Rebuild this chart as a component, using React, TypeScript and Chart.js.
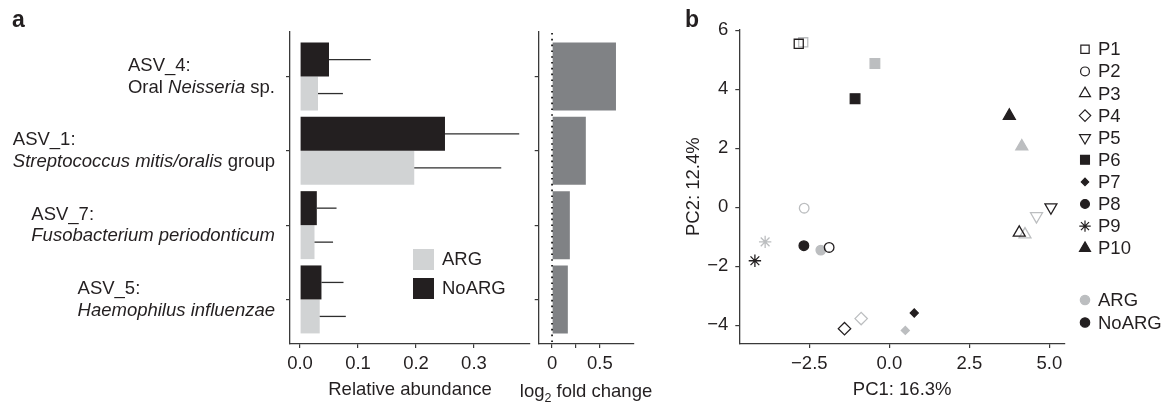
import React, { useEffect, useRef } from 'react';
import { Chart, registerables } from 'chart.js';
import { drawPoint } from 'chart.js/helpers';

Chart.register(...registerables);

const FONT = '"Liberation Sans", Arial, Helvetica, sans-serif';
const FS = 18.5;
const INK = '#231f20';
const AXIS = '#3a3a3a';
const ARG_BAR = '#d1d3d4';
const FOLD_BAR = '#808285';
const ARG_PT = '#bcbec0';

// ---------- Panel a data ----------
const asvIds = ['ASV_4:', 'ASV_1:', 'ASV_7:', 'ASV_5:'];
const taxonLines: [string, boolean][][] = [
  [['Oral ', false], ['Neisseria', true], [' sp.', false]],
  [['Streptococcus mitis/oralis', true], [' group', false]],
  [['Fusobacterium periodonticum', true]],
  [['Haemophilus influenzae', true]],
];
const noargMean = [0.05, 0.25, 0.029, 0.037];
const noargUpper = [0.122, 0.378, 0.063, 0.075];
const argMean = [0.031, 0.197, 0.025, 0.034];
const argUpper = [0.074, 0.347, 0.057, 0.079];
const log2FoldChange = [0.668, 0.353, 0.186, 0.165];
const abundanceTicks = [0, 0.1, 0.2, 0.3];
const foldTicks = [0, 0.25, 0.5];
const foldTickLabels = ['0', '', '0.5'];
const groupLabels = ['ARG', 'NoARG'];

// ---------- Panel b data ----------
const patients = ['P1', 'P2', 'P3', 'P4', 'P5', 'P6', 'P7', 'P8', 'P9', 'P10'];
const argPC1 = [-2.69, -2.66, 4.24, -0.88, 4.6, -0.45, 0.5, -2.14, -3.88, 4.14];
const argPC2 = [5.59, -0.03, -0.92, -3.77, -0.3, 4.87, -4.17, -1.45, -1.17, 2.06];
const noargPC1 = [-2.83, -1.88, 4.06, -1.4, 5.05, -1.07, 0.78, -2.67, -4.2, 3.75];
const noargPC2 = [5.54, -1.36, -0.86, -4.11, 0.0, 3.68, -3.58, -1.3, -1.81, 3.1];
const pc1Ticks = [-2.5, 0, 2.5, 5];
const pc2Ticks = [-4, -2, 0, 2, 4, 6];

// marker styles per patient
const shapes = ['rect', 'circle', 'triangle', 'rectRot', 'triangle', 'rect', 'rectRot', 'circle', 'star', 'triangle'];
const rotations = [0, 0, 0, 0, 180, 0, 0, 0, 0, 0];
const filled = [false, false, false, false, false, true, true, true, false, true];
const radii = [6.4, 4.8, 6.9, 6.2, 6.9, 6.8, 4.0, 4.8, 6.2, 6.9];

Chart.defaults.font.family = FONT;
Chart.defaults.font.size = FS;
Chart.defaults.color = INK;

const gridOpts = { drawOnChartArea: false, drawTicks: true, tickLength: 4, color: AXIS, lineWidth: 1.2, offset: false };
const borderOpts = { display: true, color: AXIS, width: 1.3 };

function zeroPad(s: any) {
  s.paddingLeft = 0;
  s.paddingRight = 0;
  s.paddingTop = 0;
  s.paddingBottom = 0;
}

const categoryLabelPlugin = {
  id: 'categoryLabels',
  afterDraw(chart: any) {
    const ctx = chart.ctx;
    const y = chart.scales.y;
    const rightEdge = chart.chartArea.left - 15;
    ctx.save();
    ctx.fillStyle = INK;
    ctx.textBaseline = 'middle';
    ctx.textAlign = 'left';
    asvIds.forEach((id, i) => {
      const yc = y.getPixelForValue(i + 1);
      ctx.font = `${FS}px ${FONT}`;
      const w1 = ctx.measureText(id).width;
      let w2 = 0;
      taxonLines[i].forEach(([t, it]) => {
        ctx.font = `${it ? 'italic ' : ''}${FS}px ${FONT}`;
        w2 += ctx.measureText(t).width;
      });
      const x0 = rightEdge - Math.max(w1, w2);
      ctx.font = `${FS}px ${FONT}`;
      ctx.fillText(id, x0, yc - 10.5);
      let x = x0;
      taxonLines[i].forEach(([t, it]) => {
        ctx.font = `${it ? 'italic ' : ''}${FS}px ${FONT}`;
        ctx.fillText(t, x, yc + 11);
        x += ctx.measureText(t).width;
      });
    });
    // panel letter
    ctx.font = `bold 23px ${FONT}`;
    ctx.textBaseline = 'alphabetic';
    ctx.fillText('a', 12, 27);
    // legend
    const lx = chart.chartArea.left + 123;
    const colors = [ARG_BAR, INK];
    groupLabels.forEach((g, k) => {
      const ty = 249 + k * 29;
      ctx.fillStyle = colors[k];
      ctx.fillRect(lx, ty, 21, 21);
      ctx.fillStyle = INK;
      ctx.font = `${FS}px ${FONT}`;
      ctx.textBaseline = 'middle';
      ctx.fillText(g, lx + 29, ty + 11);
    });
    ctx.restore();
  },
};

const errorBarPlugin = {
  id: 'errorBars',
  afterDatasetsDraw(chart: any) {
    const ctx = chart.ctx;
    const xs = chart.scales.x;
    const sets = [
      [noargMean, noargUpper],
      [argMean, argUpper],
    ];
    ctx.save();
    ctx.strokeStyle = '#2e2e2e';
    ctx.lineWidth = 1.3;
    sets.forEach(([m, u], d) => {
      const meta = chart.getDatasetMeta(d);
      meta.data.forEach((bar: any, i: number) => {
        ctx.beginPath();
        ctx.moveTo(xs.getPixelForValue(m[i]), bar.y);
        ctx.lineTo(xs.getPixelForValue(u[i]), bar.y);
        ctx.stroke();
      });
    });
    ctx.restore();
  },
};

const foldPlugin = {
  id: 'foldExtras',
  afterDatasetsDraw(chart: any) {
    const ctx = chart.ctx;
    const { top, bottom } = chart.chartArea;
    const x0 = chart.scales.x.getPixelForValue(0);
    ctx.save();
    ctx.strokeStyle = '#000';
    ctx.lineWidth = 1.6;
    ctx.setLineDash([1.6, 4.2]);
    ctx.beginPath();
    ctx.moveTo(x0, top + 1);
    ctx.lineTo(x0, bottom);
    ctx.stroke();
    ctx.restore();
  },
  afterDraw(chart: any) {
    const ctx = chart.ctx;
    const { left, right } = chart.chartArea;
    const cx = (left + right) / 2;
    const by = 397;
    ctx.save();
    ctx.fillStyle = INK;
    ctx.textBaseline = 'alphabetic';
    ctx.textAlign = 'left';
    ctx.font = `${FS}px ${FONT}`;
    const wa = ctx.measureText('log').width;
    const wc = ctx.measureText(' fold change').width;
    ctx.font = `12.5px ${FONT}`;
    const wb = ctx.measureText('2').width;
    let x = cx - (wa + wb + wc) / 2;
    ctx.font = `${FS}px ${FONT}`;
    ctx.fillText('log', x, by);
    x += wa;
    ctx.font = `12.5px ${FONT}`;
    ctx.fillText('2', x, by + 5);
    x += wb;
    ctx.font = `${FS}px ${FONT}`;
    ctx.fillText(' fold change', x, by);
    ctx.restore();
  },
};

const scatterLegendPlugin = {
  id: 'scatterLegend',
  afterDraw(chart: any) {
    const ctx = chart.ctx;
    const mx = chart.chartArea.right + 20;
    const tx = chart.chartArea.right + 33;
    ctx.save();
    ctx.font = `${FS}px ${FONT}`;
    ctx.textBaseline = 'middle';
    ctx.textAlign = 'left';
    patients.forEach((p, i) => {
      const y = 49.3 + i * 22.1;
      ctx.fillStyle = filled[i] ? INK : 'rgba(0,0,0,0)';
      ctx.strokeStyle = INK;
      ctx.lineWidth = 1.2;
      drawPoint(ctx, { pointStyle: shapes[i], rotation: rotations[i], radius: radii[i] * 0.92, borderWidth: 1.2 }, mx, y);
      ctx.fillStyle = INK;
      ctx.fillText(p, tx, y + 1);
    });
    const gcol = [ARG_PT, INK];
    groupLabels.forEach((g, k) => {
      const y = 300 + k * 22.5;
      ctx.fillStyle = gcol[k];
      ctx.strokeStyle = gcol[k];
      drawPoint(ctx, { pointStyle: 'circle', rotation: 0, radius: 4.7, borderWidth: 1 }, mx, y);
      ctx.fillStyle = INK;
      ctx.fillText(g, tx, y + 1);
    });
    ctx.font = `bold 23px ${FONT}`;
    ctx.textBaseline = 'alphabetic';
    ctx.fillText('b', 5, 27);
    ctx.restore();
  },
};

function useChart(ref: React.RefObject<HTMLCanvasElement>, make: () => any) {
  useEffect(() => {
    if (!ref.current) return;
    const chart = new Chart(ref.current, make());
    return () => chart.destroy();
  }, []);
}

const minus = (s: string) => s.replace('-', '\u2212');

const indexScale = (width: number) => ({
  type: 'linear',
  reverse: true,
  offset: false,
  min: 0.4,
  max: 4.6,
  afterBuildTicks: (s: any) => {
    s.ticks = asvIds.map((_, i) => ({ value: i + 1 }));
  },
  ticks: { display: false },
  grid: gridOpts,
  border: borderOpts,
  afterFit: (s: any) => {
    s.width = width;
    zeroPad(s);
  },
});

export default function App() {
  const aRef = useRef<HTMLCanvasElement>(null);
  const fRef = useRef<HTMLCanvasElement>(null);
  const bRef = useRef<HTMLCanvasElement>(null);

  useChart(aRef, () => ({
    type: 'bar',
    data: {
      datasets: [
        {
          label: 'NoARG',
          data: noargMean.map((v, i) => ({ x: v, y: i + 1 })),
          backgroundColor: INK,
          borderWidth: 0,
          categoryPercentage: 0.915,
          barPercentage: 1,
        },
        {
          label: 'ARG',
          data: argMean.map((v, i) => ({ x: v, y: i + 1 })),
          backgroundColor: ARG_BAR,
          borderWidth: 0,
          categoryPercentage: 0.915,
          barPercentage: 1,
        },
      ],
    },
    options: {
      indexAxis: 'y',
      animation: false,
      responsive: false,
      maintainAspectRatio: false,
      layout: { padding: { left: 0, top: 32, right: 10, bottom: 0 } },
      plugins: { legend: { display: false }, tooltip: { enabled: false } },
      scales: {
        x: {
          type: 'linear',
          min: -0.01724,
          max: 0.3966,
          afterBuildTicks: (s: any) => {
            s.ticks = abundanceTicks.map((v) => ({ value: v }));
          },
          ticks: { callback: (v: any) => Number(v).toFixed(1), padding: 5, maxRotation: 0, color: INK },
          grid: gridOpts,
          border: borderOpts,
          title: { display: true, text: 'Relative abundance', color: INK, font: { size: FS }, padding: { top: 0, bottom: 3 } },
          afterFit: (s: any) => {
            s.height = 60;
            zeroPad(s);
          },
        },
        y: indexScale(290),
      },
    },
    plugins: [errorBarPlugin, categoryLabelPlugin],
  }));

  useChart(fRef, () => ({
    type: 'bar',
    data: {
      datasets: [
        {
          label: 'log2 fold change',
          data: log2FoldChange.map((v, i) => ({ x: v, y: i + 1 })),
          backgroundColor: FOLD_BAR,
          borderWidth: 0,
          categoryPercentage: 0.915,
          barPercentage: 1,
        },
      ],
    },
    options: {
      indexAxis: 'y',
      animation: false,
      responsive: false,
      maintainAspectRatio: false,
      layout: { padding: { left: 0, top: 32, right: 36.7, bottom: 0 } },
      plugins: { legend: { display: false }, tooltip: { enabled: false } },
      scales: {
        x: {
          type: 'linear',
          min: -0.1394,
          max: 0.849,
          afterBuildTicks: (s: any) => {
            s.ticks = foldTicks.map((v) => ({ value: v }));
          },
          ticks: {
            callback: (v: any, i: number) => foldTickLabels[i],
            padding: 5,
            maxRotation: 0,
            autoSkip: false,
            color: INK,
          },
          grid: gridOpts,
          border: borderOpts,
          afterFit: (s: any) => {
            s.height = 60;
            zeroPad(s);
          },
        },
        y: indexScale(58.7),
      },
    },
    plugins: [foldPlugin],
  }));

  useChart(bRef, () => ({
    type: 'scatter',
    data: {
      datasets: [
        {
          label: 'NoARG',
          data: noargPC1.map((x, i) => ({ x, y: noargPC2[i] })),
          pointStyle: shapes,
          pointRotation: rotations,
          pointRadius: radii,
          pointBackgroundColor: filled.map((f) => (f ? INK : 'rgba(0,0,0,0)')),
          pointBorderColor: INK,
          pointBorderWidth: 1.3,
        },
        {
          label: 'ARG',
          data: argPC1.map((x, i) => ({ x, y: argPC2[i] })),
          pointStyle: shapes,
          pointRotation: rotations,
          pointRadius: radii,
          pointBackgroundColor: filled.map((f) => (f ? ARG_PT : 'rgba(0,0,0,0)')),
          pointBorderColor: ARG_PT,
          pointBorderWidth: 1.3,
        },
      ],
    },
    options: {
      animation: false,
      responsive: false,
      maintainAspectRatio: false,
      layout: { padding: { left: 0, top: 29.3, right: 101, bottom: 0 } },
      plugins: { legend: { display: false }, tooltip: { enabled: false } },
      scales: {
        x: {
          type: 'linear',
          min: -4.6875,
          max: 5.49,
          afterBuildTicks: (s: any) => {
            s.ticks = pc1Ticks.map((v) => ({ value: v }));
          },
          ticks: { callback: (v: any) => minus(Number(v).toFixed(1)), padding: 5, maxRotation: 0, color: INK },
          grid: gridOpts,
          border: borderOpts,
          title: { display: true, text: 'PC1: 16.3%', color: INK, font: { size: FS }, padding: { top: 0, bottom: 3.2 } },
          afterFit: (s: any) => {
            s.height = 60;
            zeroPad(s);
          },
        },
        y: {
          type: 'linear',
          min: -4.63,
          max: 6.03,
          afterBuildTicks: (s: any) => {
            s.ticks = pc2Ticks.map((v) => ({ value: v }));
          },
          ticks: { callback: (v: any) => minus(String(v)), padding: 7, color: INK },
          grid: gridOpts,
          border: borderOpts,
          title: { display: true, text: 'PC2: 12.4%', color: INK, font: { size: FS }, padding: { top: 3, bottom: 0 } },
          afterFit: (s: any) => {
            s.width = 59.3;
            zeroPad(s);
          },
        },
      },
    },
    plugins: [scatterLegendPlugin],
  }));

  return (
    <div style={{ position: 'absolute', left: 0, top: 0, width: 1166, height: 404, background: '#fff', overflow: 'hidden' }}>
      <canvas ref={aRef} width={540} height={404} style={{ position: 'absolute', left: 0, top: 0, width: 540, height: 404 }} />
      <canvas ref={fRef} width={190} height={404} style={{ position: 'absolute', left: 480, top: 0, width: 190, height: 404 }} />
      <canvas ref={bRef} width={486} height={404} style={{ position: 'absolute', left: 680, top: 0, width: 486, height: 404 }} />
    </div>
  );
}
